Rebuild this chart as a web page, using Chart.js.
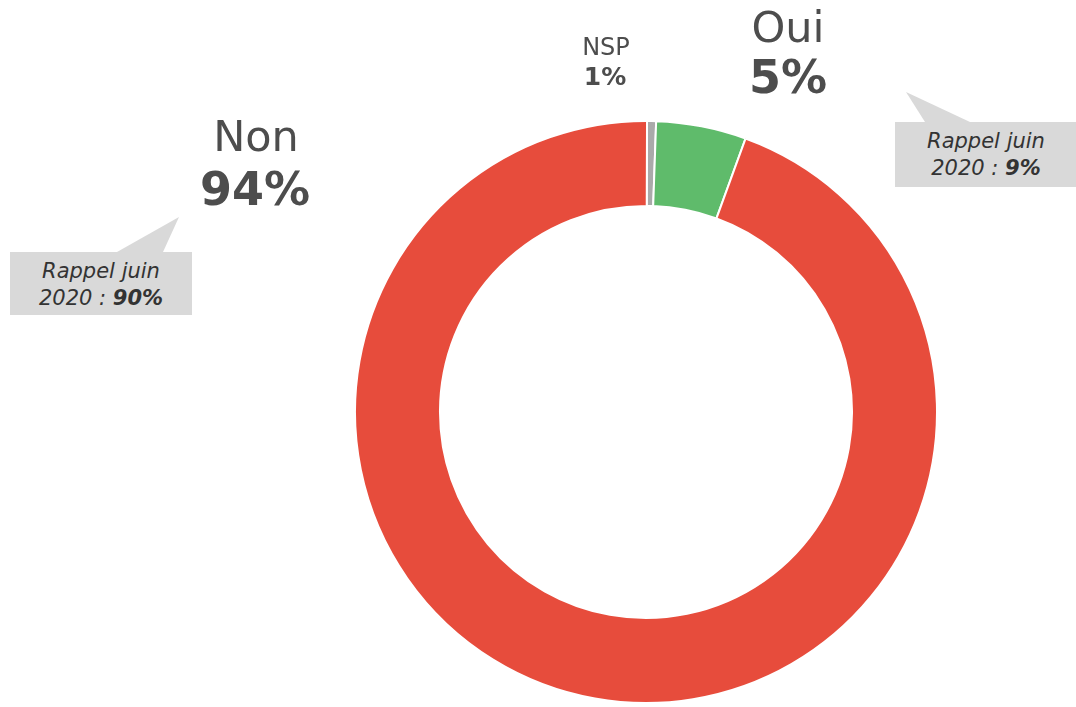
<!DOCTYPE html>
<html lang="fr">
<head>
<meta charset="utf-8">
<script src="https://cdn.jsdelivr.net/npm/chart.js@4"></script>
<style>
  html, body { margin:0; padding:0; background:#fff; }
  #wrap { position:relative; width:1076px; height:707px; overflow:hidden; font-family:"DejaVu Sans", Verdana, sans-serif; }
  #chart { position:absolute; left:0; top:0; }
  .lbl { position:absolute; transform:translateX(-50%); white-space:nowrap; line-height:1; color:#4d4d4d; }
  .lbl.b { font-weight:bold; }
  .box { position:absolute; background:#d9d9d9; }
  .tail { position:absolute; background:#d9d9d9; }
  .rappel { position:absolute; transform:translateX(-50%); white-space:nowrap; line-height:1; font-size:21px; font-style:italic; color:#333; }
</style>
</head>
<body>
<div id="wrap">
  <canvas id="chart" width="1076" height="707"></canvas>
</div>
<script>
// ========= Données =========
const categories = ["NSP", "Oui", "Non"];
const values = [0.5, 5.0, 94.5];
const shownPct = ["1%", "5%", "94%"];
const recallPct = [null, "9%", "90%"];  // rappel juin 2020
const sliceColors = ["#aaaaaa", "#5fbb6b", "#e74c3c"];

// ========= Doughnut =========
const chart = new Chart(document.getElementById("chart"), {
  type: "doughnut",
  data: {
    labels: categories,
    datasets: [{ data: values, backgroundColor: sliceColors, borderColor: "#ffffff", borderWidth: 2 }]
  },
  options: {
    responsive: false,
    animation: false,
    cutout: "70.8%",
    rotation: 0.2,
    layout: { padding: { left: 354, right: 138, top: 120, bottom: 3 } },
    plugins: { legend: { display: false }, tooltip: { enabled: false } }
  }
});

// ========= Étiquettes =========
const wrap = document.getElementById("wrap");
function addText(cls, text, x, y, size) {
  const d = document.createElement("div");
  d.className = cls;
  d.textContent = text;
  d.style.left = x + "px"; d.style.top = y + "px";
  if (size) d.style.fontSize = size + "px";
  wrap.appendChild(d);
  return d;
}
function addRappel(x, y1, y2, pct) {
  addText("rappel", "Rappel juin", x, y1);
  const d2 = addText("rappel", "2020 : ", x, y2);
  const s = document.createElement("b");
  s.textContent = pct;
  d2.appendChild(s);
}
function addBox(l, t, w, h, tail) {
  const b = document.createElement("div");
  b.className = "box";
  Object.assign(b.style, { left: l + "px", top: t + "px", width: w + "px", height: h + "px" });
  wrap.appendChild(b);
  // pointe : sommet + deux points de base
  const xs = tail.map(p => p[0]), ys = tail.map(p => p[1]);
  const x0 = Math.min(...xs), y0 = Math.min(...ys);
  const t2 = document.createElement("div");
  t2.className = "tail";
  Object.assign(t2.style, {
    left: x0 + "px", top: y0 + "px",
    width: (Math.max(...xs) - x0) + "px", height: (Math.max(...ys) - y0 + 1) + "px",
    clipPath: "polygon(" + tail.map(p => (p[0] - x0) + "px " + (p[1] - y0) + "px").join(",") + ")"
  });
  wrap.appendChild(t2);
}

// NSP
addText("lbl", categories[0], 606, 35, 24);
addText("lbl b", shownPct[0], 605, 64, 25);
// Oui
addText("lbl", categories[1], 788, 6, 43);
addText("lbl b", shownPct[1], 788, 54, 46);
// Non
addText("lbl", categories[2], 256, 115, 43);
addText("lbl b", shownPct[2], 255, 166, 46);

// Rappels
addBox(895, 122, 181, 65, [[906, 92], [925, 122], [970, 122]]);
addRappel(986, 131, 158, recallPct[1]);
addBox(10, 252, 182, 63, [[179, 217], [117, 252], [163, 252]]);
addRappel(101, 261, 288, recallPct[2]);
</script>
</body>
</html>
